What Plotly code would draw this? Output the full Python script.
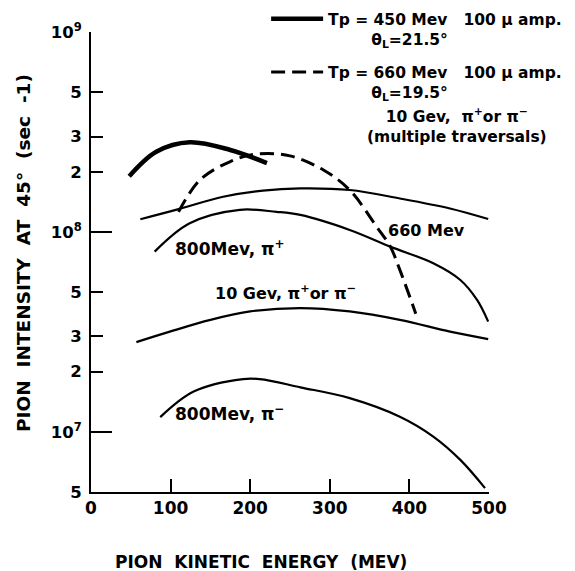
import numpy as np
import plotly.graph_objects as go

# ---- data ----
x_450 = [48, 82, 124, 175, 221]
y_450 = [1.90e8, 2.52e8, 2.81e8, 2.57e8, 2.21e8]

x_660 = [110, 137, 175, 208, 250, 292, 325, 359, 376, 388, 408]
y_660 = [1.26e8, 1.82e8, 2.25e8, 2.45e8, 2.40e8, 2.04e8, 1.62e8, 1.06e8, 8.44e7, 6.46e7, 3.90e7]

x_10g_mt = [62, 110, 166, 216, 263, 325, 388, 451, 499]
y_10g_mt = [1.157e8, 1.30e8, 1.50e8, 1.61e8, 1.65e8, 1.62e8, 1.47e8, 1.31e8, 1.16e8]

x_800p = [80, 124, 187, 233, 263, 325, 376, 430, 464, 485, 499]
y_800p = [7.97e7, 1.105e8, 1.29e8, 1.26e8, 1.216e8, 1.023e8, 8.44e7, 6.97e7, 5.75e7, 4.57e7, 3.56e7]

x_10g = [57, 99, 150, 200, 263, 325, 388, 451, 499]
y_10g = [2.81e7, 3.17e7, 3.63e7, 4.0e7, 4.16e7, 4.0e7, 3.63e7, 3.17e7, 2.91e7]

x_800m = [87, 129, 191, 212, 263, 325, 388, 430, 464, 495]
y_800m = [1.184e7, 1.59e7, 1.835e7, 1.835e7, 1.67e7, 1.474e7, 1.19e7, 9.47e6, 7.24e6, 5.23e6]

x_ticks = [0, 100, 200, 300, 400, 500]
y_ticks = [5e6, 1e7, 2e7, 3e7, 5e7, 1e8, 2e8, 3e8, 5e8, 1e9]
y_ticktext = ["5", "10<sup>7</sup>", "2", "3", "5", "10<sup>8</sup>", "2", "3", "5", "10<sup>9</sup>"]
y_major = [1e7, 1e8, 1e9]

FONT = "DejaVu Sans"
BLK = "black"
NB = "\u00a0"

fig = go.Figure()

def line(x, y, width, dash="solid", name=None, show=False):
    fig.add_trace(go.Scatter(
        x=x, y=y, mode="lines", line=dict(color=BLK, width=width, dash=dash, shape="spline", smoothing=1.0),
        name=name, showlegend=show, hoverinfo="skip", legendgroup=name))

name450 = f"Tp = 450 Mev{NB}{NB} 100 \u03bc amp.<br>{NB * 8}\u03b8<sub>L</sub>=21.5\u00b0"
name660 = f"Tp = 660 Mev{NB}{NB} 100 \u03bc amp.<br>{NB * 8}\u03b8<sub>L</sub>=19.5\u00b0"
line(x_450, y_450, 4.5, "solid", name450, True)
line(x_660, y_660, 3, "14px,7px", name660, True)
line(x_10g_mt, y_10g_mt, 2.2)
line(x_800p, y_800p, 2.2)
line(x_10g, y_10g, 2.2)
line(x_800m, y_800m, 2.2)

# overlay axis for the longer decade ticks
fig.add_trace(go.Scatter(x=[None], y=[None], yaxis="y2", showlegend=False, hoverinfo="skip"))

yr = [np.log10(5e6), 9]
fig.update_layout(
    width=575, height=571,
    margin=dict(l=91, r=86, t=32, b=79, autoexpand=False),
    paper_bgcolor="white", plot_bgcolor="white",
    font=dict(family=FONT, color=BLK, size=16),
    xaxis=dict(range=[0, 500], tickvals=x_ticks, ticks="inside", ticklen=13, tickwidth=2,
               tickcolor=BLK, showline=True, linewidth=2, linecolor=BLK, showgrid=False,
               zeroline=False, tickfont=dict(size=17, family=FONT, weight="bold")),
    yaxis=dict(type="log", range=yr, tickvals=y_ticks, ticktext=y_ticktext, ticks="inside",
               ticklen=12, tickwidth=2, tickcolor=BLK, showline=True, linewidth=2, linecolor=BLK,
               showgrid=False, zeroline=False, ticklabelstandoff=4,
               tickfont=dict(size=16.5, family=FONT, weight="bold")),
    yaxis2=dict(type="log", range=yr, overlaying="y", anchor="x", side="left", tickvals=y_major,
                ticks="inside", ticklen=21, tickwidth=2, tickcolor=BLK, showticklabels=False,
                showline=False, showgrid=False, zeroline=False),
    showlegend=True,
    legend=dict(x=0.44, y=1.065, xanchor="left", yanchor="top", bgcolor="rgba(0,0,0,0)",
                font=dict(size=15.5, family=FONT, weight="bold"), tracegroupgap=10,
                itemwidth=52, valign="top"),
)

ann = []
def a(text, x, y, xref="x", yref="y", size=15, xanchor="left", **kw):
    ann.append(dict(text=text, x=x, y=y, xref=xref, yref=yref, showarrow=False, xanchor=xanchor,
                    yanchor="middle", font=dict(size=size, family=FONT, color=BLK, weight="bold"), **kw))

# axis titles
a("PION  KINETIC  ENERGY  (MEV)", 0.427, -0.152, "paper", "paper", size=17, xanchor="center")
a("PION  INTENSITY  AT  45\u00b0  (sec  -1)", -0.168, 0.52, "paper", "paper", size=18.5,
  xanchor="center", textangle=-90)
# key text for the multiple-traversal curve
a("10 Gev,  \u03c0<sup>+</sup>or \u03c0<sup>\u2212</sup><br>(multiple traversals)",
  (457 - 91) / 398, (492 - 125) / 460, "paper", "paper", xanchor="center", size=15.5)
# curve labels
a("800Mev, \u03c0<sup>+</sup>", 103, np.log10(8.3e7), size=17)
a("10 Gev, \u03c0<sup>+</sup>or \u03c0<sup>\u2212</sup>", 153, np.log10(4.95e7), size=16)
a("660 Mev", 371, np.log10(1.02e8), size=16)
a("800Mev, \u03c0<sup>\u2212</sup>", 103, np.log10(1.245e7), size=17)
fig.update_layout(annotations=ann)

fig.write_html("out.html", config={"displayModeBar": False},
               post_script="document.body.style.margin='0';document.body.style.padding='0';")
